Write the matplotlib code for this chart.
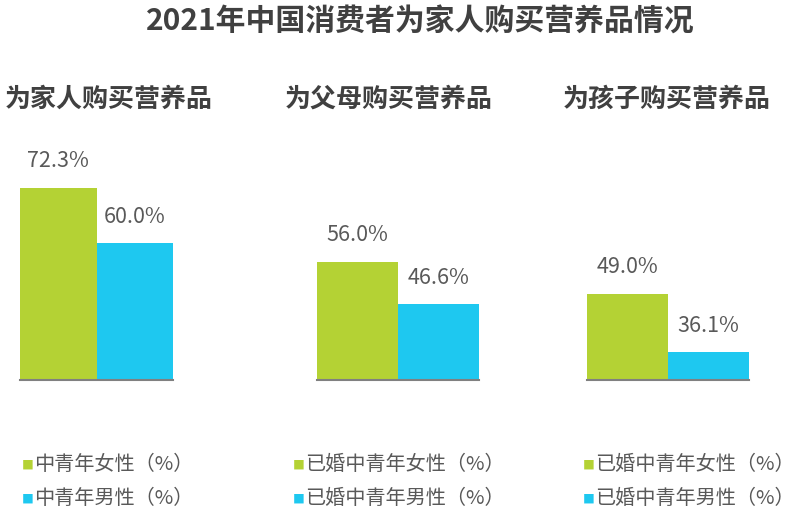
import matplotlib
matplotlib.use('Agg')
import matplotlib.pyplot as plt

plt.rcParams['font.family'] = ['Noto Sans CJK SC', 'DejaVu Sans']

title = '2021年中国消费者为家人购买营养品情况'
panels = ['为家人购买营养品', '为父母购买营养品', '为孩子购买营养品']
female = [72.3, 56.0, 49.0]
male = [60.0, 46.6, 36.1]
female_labels = ['中青年女性（%）', '已婚中青年女性（%）', '已婚中青年女性（%）']
male_labels = ['中青年男性（%）', '已婚中青年男性（%）', '已婚中青年男性（%）']

GREEN = '#b4d234'
CYAN = '#1ec8f0'
DARK = '#404040'
GREY = '#595959'

W, H = 800, 527
fig = plt.figure(figsize=(W / 100, H / 100), dpi=100)


def fx(px):
    return px / W


def fy(py):
    return 1 - py / H


fig.text(fx(420), fy(22), title, ha='center', va='center',
         fontsize=21.5, fontweight='bold', color=DARK)

# pixel layout of each panel: bar area left/right, subtitle x, legend x
bar_left = [20, 316.7, 586.7]
bar_right = [173.3, 479, 749]
sub_x = [5, 285, 563]
leg_x = [22, 293, 583]

bottom_px, top_px = 380, 152.5
ymin, ymax = 30, 80

for i in range(3):
    ax = fig.add_axes([fx(bar_left[i]), fy(bottom_px),
                       fx(bar_right[i] - bar_left[i]),
                       (bottom_px - top_px) / H])
    vals = [female[i], male[i]]
    bars = ax.bar([0, 1], vals, width=1.0, color=[GREEN, CYAN], bottom=0)
    ax.set_xlim(-0.5, 1.5)
    ax.set_ylim(ymin, ymax)
    for s in ['top', 'right', 'left']:
        ax.spines[s].set_visible(False)
    ax.spines['bottom'].set_color('#808080')
    ax.spines['bottom'].set_linewidth(1.5)
    ax.set_xticks([])
    ax.set_yticks([])
    ax.patch.set_alpha(0)
    for b, v in zip(bars, vals):
        ax.annotate(f'{v:.1f}%', (b.get_x() + b.get_width() / 2, v),
                    xytext=(0, 11), textcoords='offset points',
                    ha='center', va='bottom', fontsize=15.5, color=GREY)

    fig.text(fx(sub_x[i]), fy(99), panels[i], ha='left', va='center',
             fontsize=18.7, fontweight='bold', color=DARK)

    for row, (lab, col) in enumerate([(female_labels[i], GREEN),
                                      (male_labels[i], CYAN)]):
        yy = 464 + row * 34
        fig.text(fx(leg_x[i]), fy(yy + 1), '■', ha='left', va='center',
                 fontsize=8.5, color=col)
        fig.text(fx(leg_x[i] + 12), fy(yy), lab, ha='left', va='center',
                 fontsize=14.5, color=GREY)

fig.savefig('out.png', dpi=100)
